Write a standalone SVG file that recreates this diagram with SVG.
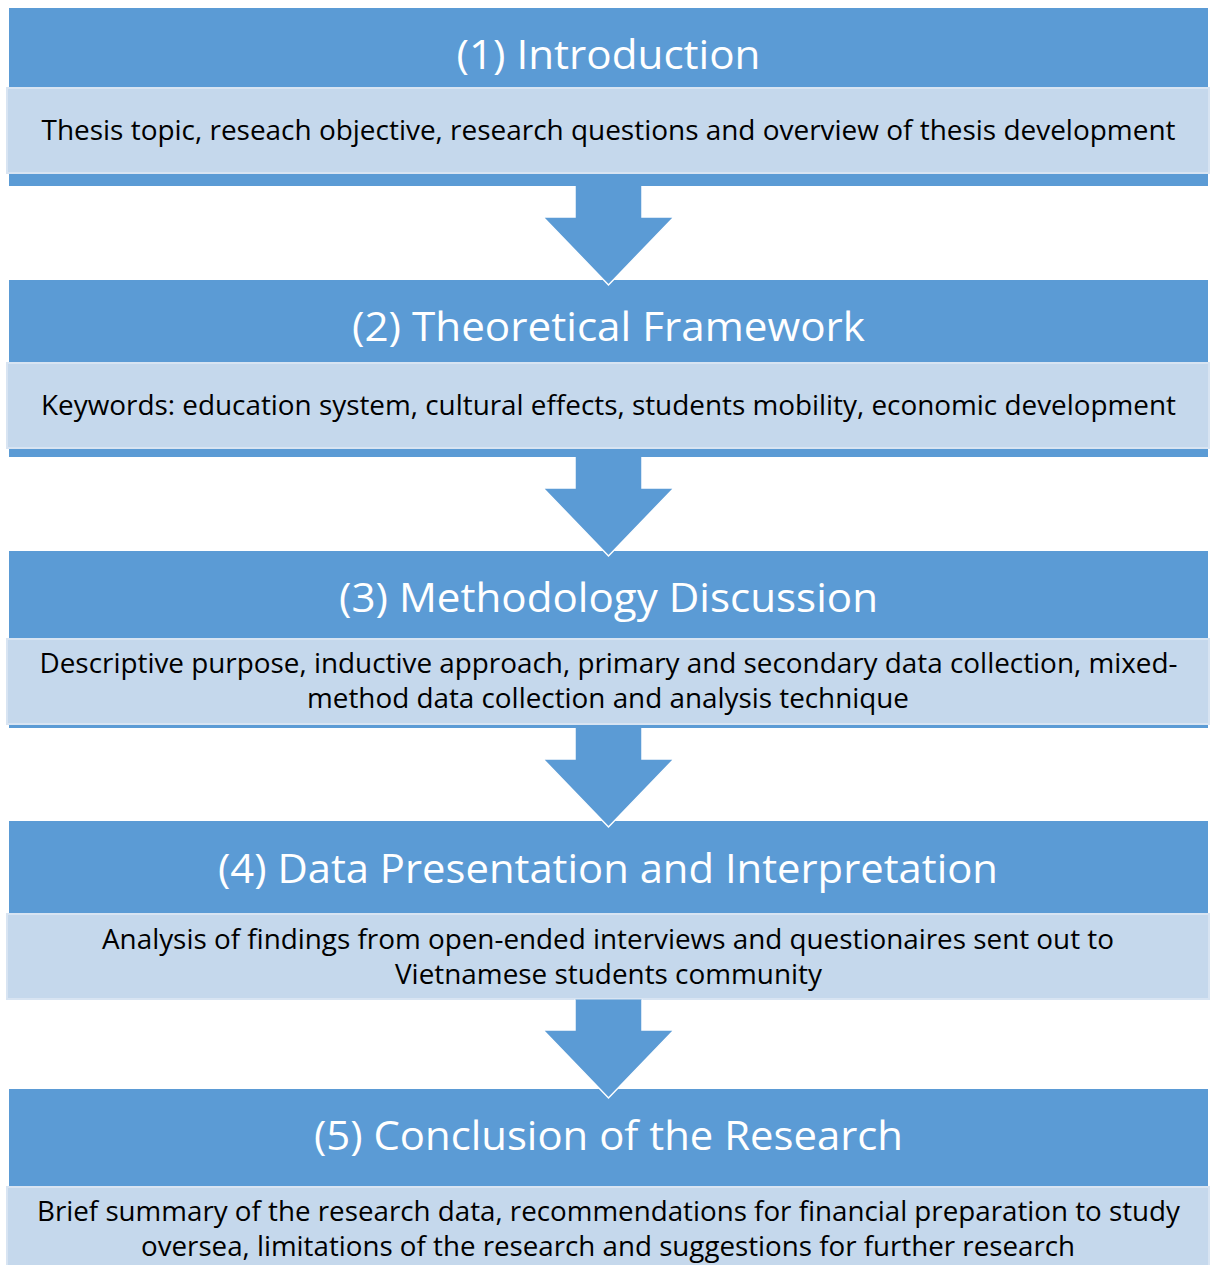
<svg xmlns="http://www.w3.org/2000/svg" width="1214" height="1265" viewBox="0 0 1214 1265">
<style>
.hdr{fill:#5B9BD5}
.body{fill:#C5D8EC;stroke:#D8E4F2;stroke-width:2}
.title{font-family:"Open Sans","Liberation Sans",sans-serif;font-size:41px;fill:#FFFFFF;text-anchor:middle}
.txt{font-family:"Open Sans","Liberation Sans",sans-serif;font-size:27px;fill:#000000;text-anchor:middle}
.arrow{fill:#5B9BD5;stroke:#FFFFFF;stroke-width:1.5;stroke-linejoin:miter}
</style>
<rect width="1214" height="1265" fill="#FFFFFF"/>
<g id="node1">
<rect class="hdr" x="9" y="8" width="1199" height="178"/>
<rect class="body" x="7" y="88" width="1202" height="85"/>
<text class="title" x="608.5" y="69" textLength="304" lengthAdjust="spacingAndGlyphs">(1) Introduction</text>
<text class="txt" x="608.5" y="140" textLength="1134" lengthAdjust="spacingAndGlyphs">Thesis topic, reseach objective, research questions and overview of thesis development</text>
</g>
<g id="node2">
<rect class="hdr" x="9" y="280" width="1199" height="177"/>
<rect class="body" x="7" y="363" width="1202" height="85"/>
<text class="title" x="608.5" y="341" textLength="513" lengthAdjust="spacingAndGlyphs">(2) Theoretical Framework</text>
<text class="txt" x="608.5" y="415" textLength="1135" lengthAdjust="spacingAndGlyphs">Keywords: education system, cultural effects, students mobility, economic development</text>
</g>
<g id="node3">
<rect class="hdr" x="9" y="551" width="1199" height="177"/>
<rect class="body" x="7" y="639" width="1202" height="85"/>
<text class="title" x="608.5" y="612" textLength="539" lengthAdjust="spacingAndGlyphs">(3) Methodology Discussion</text>
<text class="txt" x="608.5" y="673" textLength="1138" lengthAdjust="spacingAndGlyphs">Descriptive purpose, inductive approach, primary and secondary data collection, mixed-</text>
<text class="txt" x="608" y="708" textLength="602" lengthAdjust="spacingAndGlyphs">method data collection and analysis technique</text>
</g>
<g id="node4">
<rect class="hdr" x="9" y="821" width="1199" height="178"/>
<rect class="body" x="7" y="914" width="1202" height="85"/>
<text class="title" x="608" y="883" textLength="780" lengthAdjust="spacingAndGlyphs">(4) Data Presentation and Interpretation</text>
<text class="txt" x="608" y="949" textLength="1012" lengthAdjust="spacingAndGlyphs">Analysis of findings from open-ended interviews and questionaires sent out to</text>
<text class="txt" x="608.5" y="984" textLength="427" lengthAdjust="spacingAndGlyphs">Vietnamese students community</text>
</g>
<g id="node5">
<rect class="hdr" x="9" y="1089" width="1199" height="176"/>
<rect class="body" x="7" y="1187" width="1202" height="90"/>
<text class="title" x="608.5" y="1150" textLength="589" lengthAdjust="spacingAndGlyphs">(5) Conclusion of the Research</text>
<text class="txt" x="608.5" y="1221" textLength="1143" lengthAdjust="spacingAndGlyphs">Brief summary of the research data, recommendations for financial preparation to study</text>
<text class="txt" x="608" y="1256" textLength="934" lengthAdjust="spacingAndGlyphs">oversea, limitations of the research and suggestions for further research</text>
</g>
<g id="connectors">
<path class="arrow" d="M575,186 L575,217 L543,217 L608.5,285 L674,217 L642,217 L642,186"/>
<path class="arrow" d="M575,457 L575,488 L543,488 L608.5,556 L674,488 L642,488 L642,457"/>
<path class="arrow" d="M575,728 L575,759 L543,759 L608.5,827 L674,759 L642,759 L642,728"/>
<path class="arrow" d="M575,999.5 L575,1030 L543,1030 L608.5,1098 L674,1030 L642,1030 L642,999.5"/>
</g>
</svg>
